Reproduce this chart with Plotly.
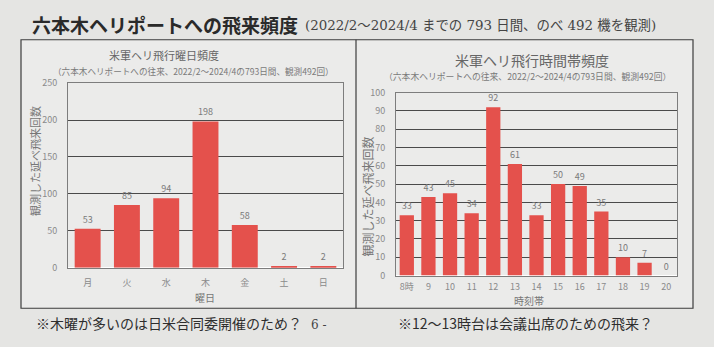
import plotly.graph_objects as go

# Weekday frequency (六本木ヘリポート)
days = ["月", "火", "水", "木", "金", "土", "日"]
day_counts = [53, 85, 94, 198, 58, 2, 2]

# Hour-of-day frequency
hours = ["8時", "9", "10", "11", "12", "13", "14", "15", "16", "17", "18", "19", "20"]
hour_counts = [33, 43, 45, 34, 92, 61, 33, 50, 49, 35, 10, 7, 0]

W, H = 714, 347
JP = "Noto Sans CJK JP"
BAR = "#e4514c"
TICK = "#8a8a8a"
GRID = "#4a4a4a"


def px(x):
    return x / W


def py(y):
    return 1 - y / H


fig = go.Figure()

fig.add_trace(go.Bar(
    x=days, y=day_counts, marker_color=BAR, marker_line_width=0,
    text=day_counts, textposition="outside", constraintext="none", cliponaxis=False,
    textfont=dict(family=JP, size=9, color="#7a7a7a"),
    xaxis="x", yaxis="y", showlegend=False,
))
fig.add_trace(go.Bar(
    x=hours, y=hour_counts, marker_color=BAR, marker_line_width=0,
    text=hour_counts, textposition="outside", constraintext="none", cliponaxis=False,
    textfont=dict(family=JP, size=9, color="#7a7a7a"),
    xaxis="x2", yaxis="y2", showlegend=False,
))

axis_common = dict(
    showline=True, linecolor="#7d7d7d", linewidth=1, mirror=True,
    tickfont=dict(family=JP, size=9, color=TICK), ticks="",
)

fig.update_layout(
    width=W, height=H,
    margin=dict(l=0, r=0, t=0, b=0),
    paper_bgcolor="#e5e5e3",
    plot_bgcolor="#eeeeed",
    bargap=0.34,
    font=dict(family=JP),
    xaxis=dict(domain=[px(68), px(343)], anchor="y", type="category",
               showgrid=False, ticklabelstandoff=6, **axis_common),
    yaxis=dict(domain=[py(271), py(79)], anchor="x", range=[0, 250],
               tickvals=[0, 50, 100, 150, 200, 250], showgrid=True,
               gridcolor=GRID, gridwidth=1, ticklabelstandoff=8, **axis_common),
    xaxis2=dict(domain=[px(396), px(677)], anchor="y2", type="category",
                showgrid=False, ticklabelstandoff=3, **axis_common),
    yaxis2=dict(domain=[py(279), py(89)], anchor="x2", range=[0, 100],
                tickvals=list(range(0, 101, 10)), showgrid=True,
                gridcolor=GRID, gridwidth=1, ticklabelstandoff=8, **axis_common),
)

# Frames around the two charts
fig.add_shape(type="rect", xref="paper", yref="paper",
              x0=px(21), x1=px(693), y0=py(313), y1=py(34),
              line=dict(color="#3c3c3c", width=1.2), fillcolor="#ebebea", layer="below")
fig.add_shape(type="line", xref="paper", yref="paper",
              x0=px(356), x1=px(356), y0=py(313), y1=py(34),
              line=dict(color="#3c3c3c", width=1.2))


def note(x, y, text, size, color="#333333", family=JP, xanchor="center", angle=0):
    fig.add_annotation(x=px(x), y=py(y), xref="paper", yref="paper", text=text,
                       showarrow=False, xanchor=xanchor, yanchor="middle",
                       textangle=angle, borderpad=0,
                       font=dict(family=family, size=size, color=color))


# Main heading
note(31, 18, "<b>六本木ヘリポートへの飛来頻度</b>", 19, color="#2a2a2a", xanchor="left")
note(304, 19, "(2022/2～2024/4 までの 793 日間、のべ 492 機を観測)", 13.4,
     color="#444444", family="DejaVu Serif, " + JP, xanchor="left")

# Left chart titles
note(164, 50, "米軍ヘリ飛行曜日頻度", 11, color="#666666")
note(194, 67, "（六本木ヘリポートへの往来、2022/2～2024/4の793日間、観測492回）", 8.6, color="#7a7a7a")
note(35, 160, "観測した延べ飛来回数", 11, color="#777777", angle=-90)
note(205, 302, "曜日", 10, color="#777777")

# Right chart titles
note(532, 55, "米軍ヘリ飛行時間帯頻度", 14, color="#666666")
note(527, 72, "（六本木ヘリポートへの往来、2022/2～2024/4の793日間、観測492回）", 8.8, color="#7a7a7a")
note(368, 197, "観測した延べ飛来回数", 12, color="#777777", angle=-90)
note(529, 304.5, "時刻帯", 10, color="#777777")

# Footnotes
note(35, 328, "※木曜が多いのは日米合同委開催のため？", 14, color="#2e2e2e", xanchor="left")
note(310, 330, "6 -", 12, color="#444444", family="DejaVu Serif", xanchor="left")
note(525, 328, "※12～13時台は会議出席のための飛来？", 14, color="#2e2e2e")

fig.write_html("out.html")
